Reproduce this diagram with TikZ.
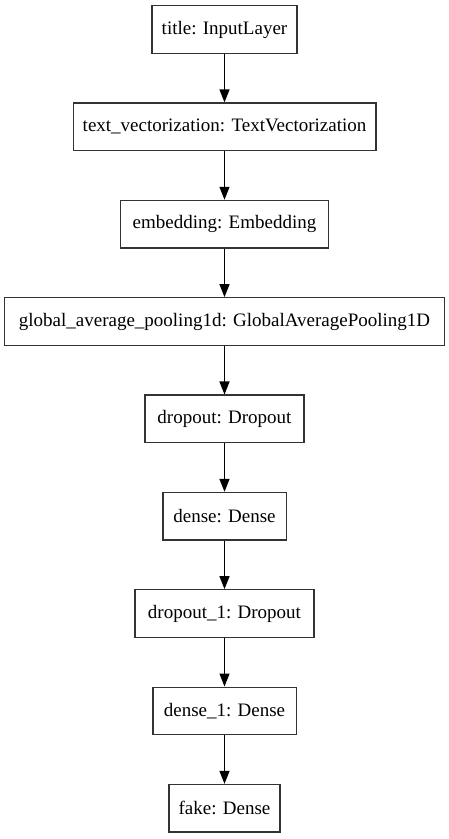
\documentclass[tikz,border=0pt]{standalone}
\usepackage{fontspec}
\setmainfont{Liberation Serif}
\usetikzlibrary{arrows.meta}
\tikzset{
    layer/.style = {draw=black!80,
                    line width=1.3pt,
                    rectangle,
                    font=\fontsize{19}{22}\selectfont,
                    minimum height=47.6pt,
                    inner xsep=4pt,
                    node distance=97.35pt
    },
    flow/.style = {-{Triangle[length=13pt,width=10pt]}, line width=1.3pt}
}

\begin{document}
\begin{tikzpicture}[auto]
    \useasboundingbox (0,0) rectangle (449pt,-839pt);
    \node [layer,minimum width=145pt] at (224.5pt,-29.5pt) (title) {title: InputLayer};
    \node [layer,below of=title,minimum width=302.7pt]   (textvec)  {text\_vectorization: TextVectorization};
    \node [layer,below of=textvec,minimum width=207.7pt] (embed)    {embedding: Embedding};
    \node [layer,below of=embed,minimum width=439.6pt]   (gapool)   {global\_average\_pooling1d: GlobalAveragePooling1D};
    \node [layer,below of=gapool,minimum width=159pt]    (drop)     {dropout: Dropout};
    \node [layer,below of=drop,minimum width=123.3pt]    (dense)    {dense: Dense};
    \node [layer,below of=dense,minimum width=179pt]     (dropone)  {dropout\_1: Dropout};
    \node [layer,below of=dropone,minimum width=143.3pt] (denseone) {dense\_1: Dense};
    \node [layer,below of=denseone,minimum width=111pt]  (fake)     {fake: Dense};

    \draw[flow] (title)    -- (textvec);
    \draw[flow] (textvec)  -- (embed);
    \draw[flow] (embed)    -- (gapool);
    \draw[flow] (gapool)   -- (drop);
    \draw[flow] (drop)     -- (dense);
    \draw[flow] (dense)    -- (dropone);
    \draw[flow] (dropone)  -- (denseone);
    \draw[flow] (denseone) -- (fake);
\end{tikzpicture}
\end{document}
